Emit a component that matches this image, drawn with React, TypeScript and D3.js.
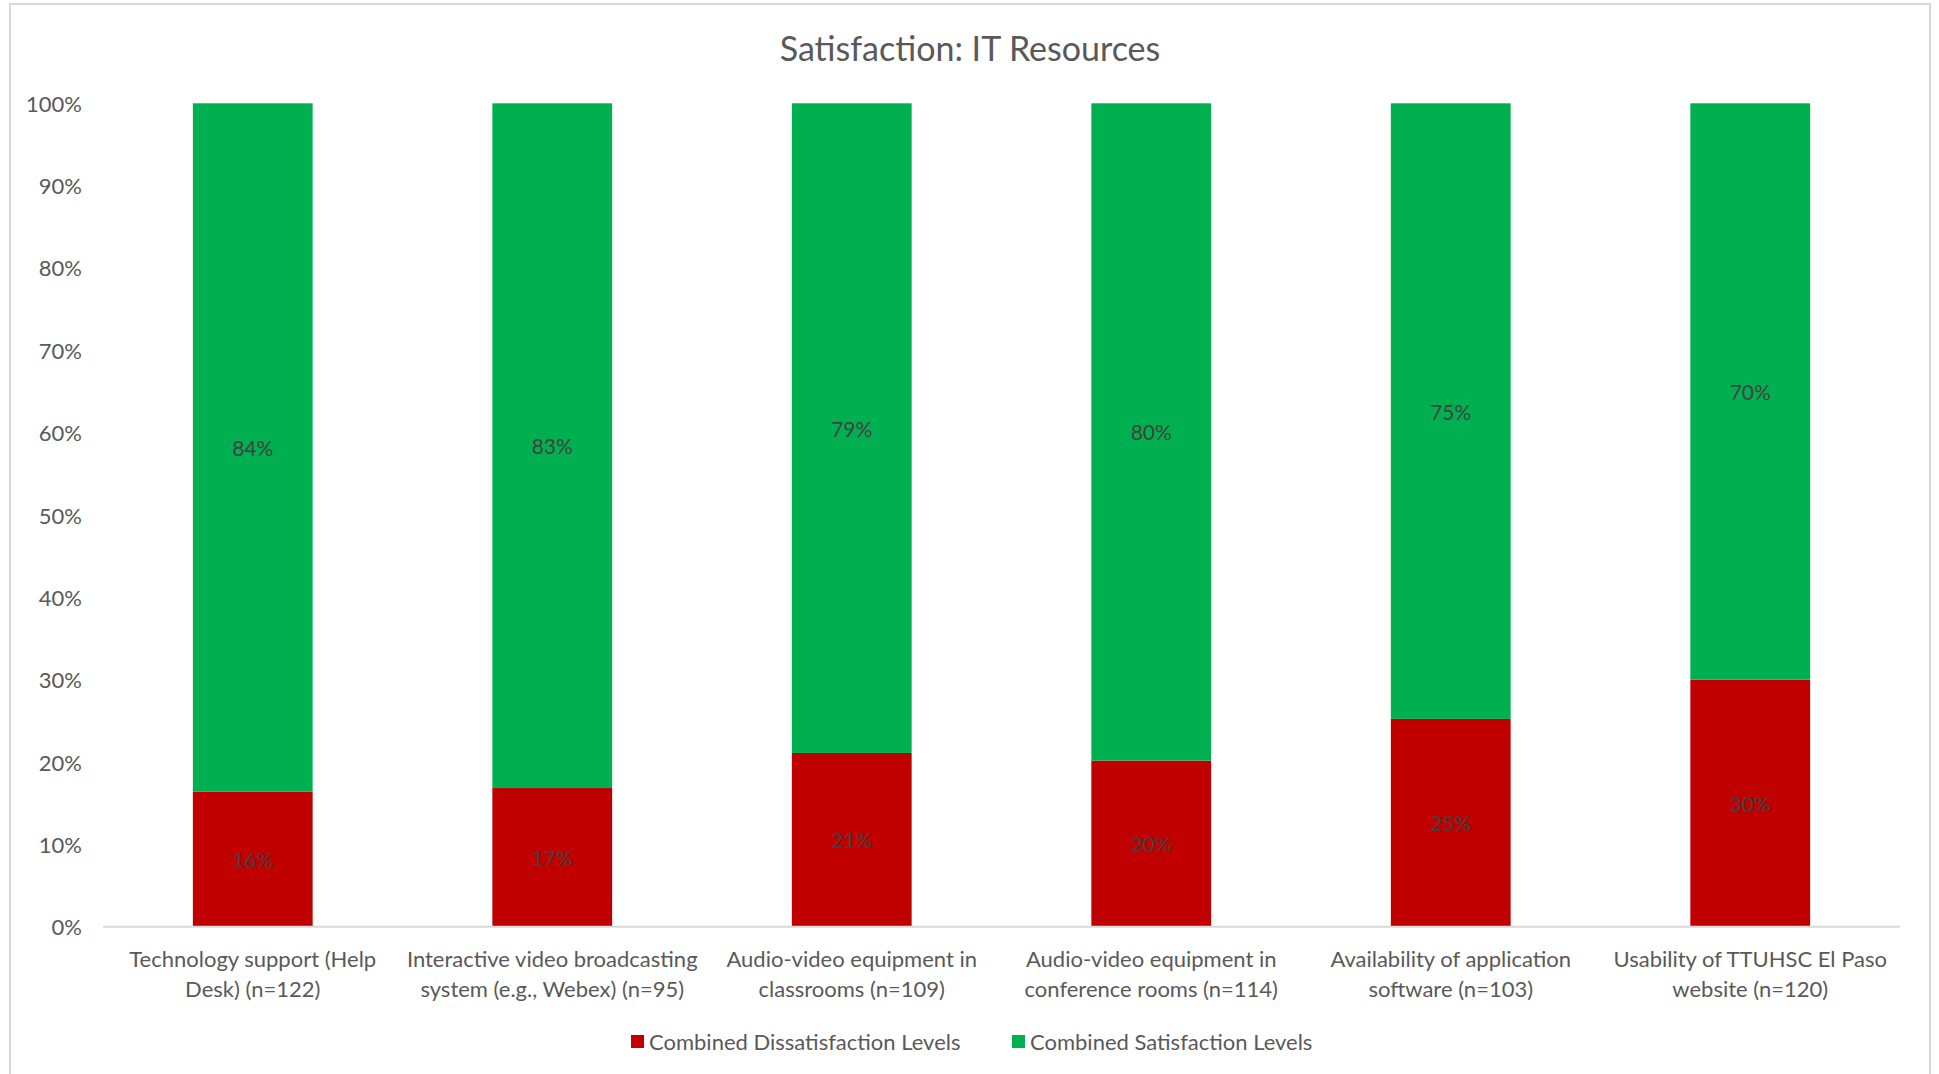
import React from "react";
import * as d3 from "d3";

const categories = [
  ["Technology support (Help", "Desk) (n=122)"],
  ["Interactive video broadcasting", "system (e.g., Webex) (n=95)"],
  ["Audio-video equipment in", "classrooms (n=109)"],
  ["Audio-video equipment in", "conference rooms (n=114)"],
  ["Availability of application", "software (n=103)"],
  ["Usability of TTUHSC El Paso", "website (n=120)"],
];
const dissatisfaction = [16.39, 16.84, 21.1, 20.18, 25.24, 30.0];
const satisfaction = [83.61, 83.16, 78.9, 79.82, 74.76, 70.0];
const yTicks = [0, 10, 20, 30, 40, 50, 60, 70, 80, 90, 100];
const seriesNames = ["Combined Dissatisfaction Levels", "Combined Satisfaction Levels"];
const seriesColors = ["#C00000", "#00B050"];

const W = 1939;
const H = 1074;
const FONT = "Lato, 'Open Sans', sans-serif";

export default function App() {
  const x = d3
    .scaleBand<number>()
    .domain(d3.range(categories.length))
    .range([103, 1900])
    .paddingInner(0.6)
    .paddingOuter(0.3);
  const y = d3.scaleLinear().domain([0, 100]).range([926.7, 103.3]);

  const rows = categories.map((c, i) => ({ i, d: dissatisfaction[i], s: satisfaction[i] }));
  const stack = d3.stack<any>().keys(["d", "s"])(rows);

  return (
    <svg
      width={W}
      height={H}
      style={{ position: "absolute", left: 0, top: 0, display: "block", background: "#fff" }}
      fontFamily={FONT}
    >
      <rect x={10} y={4} width={1920} height={H + 10} fill="none" stroke="#D9D9D9" strokeWidth={2} />
      <text x={970} y={47} textAnchor="middle" dominantBaseline="central" fontSize={34} fill="#595959">
        Satisfaction: IT Resources
      </text>
      {yTicks.map((t) => (
        <text key={t} x={82} y={y(t)} textAnchor="end" dominantBaseline="central" fontSize={22} fill="#595959">
          {t}%
        </text>
      ))}
      {stack.map((layer, k) =>
        layer.map((seg, i) => (
          <rect
            key={`${k}-${i}`}
            x={x(i)}
            y={y(seg[1])}
            width={x.bandwidth()}
            height={y(seg[0]) - y(seg[1])}
            fill={seriesColors[k]}
          />
        ))
      )}
      <line x1={103} x2={1900} y1={y(0)} y2={y(0)} stroke="#D9D9D9" strokeWidth={2} />
      {stack.map((layer, k) =>
        layer.map((seg, i) => (
          <text
            key={`l${k}-${i}`}
            x={(x(i) as number) + x.bandwidth() / 2}
            y={(y(seg[0]) + y(seg[1])) / 2}
            textAnchor="middle"
            dominantBaseline="central"
            fontSize={21}
            fill="#404040"
          >
            {Math.round(seg[1] - seg[0])}%
          </text>
        ))
      )}
      {categories.map((lines, i) =>
        lines.map((ln, j) => (
          <text
            key={`c${i}-${j}`}
            x={(x(i) as number) + x.bandwidth() / 2}
            y={958 + j * 30}
            textAnchor="middle"
            dominantBaseline="central"
            fontSize={22}
            fill="#595959"
          >
            {ln}
          </text>
        ))
      )}
      {seriesNames.map((n, k) => {
        const lx = [631, 1012][k];
        return (
          <g key={n}>
            <rect x={lx} y={1035} width={13} height={13} fill={seriesColors[k]} />
            <text x={lx + 18} y={1041} dominantBaseline="central" fontSize={22} fill="#595959">
              {n}
            </text>
          </g>
        );
      })}
    </svg>
  );
}
